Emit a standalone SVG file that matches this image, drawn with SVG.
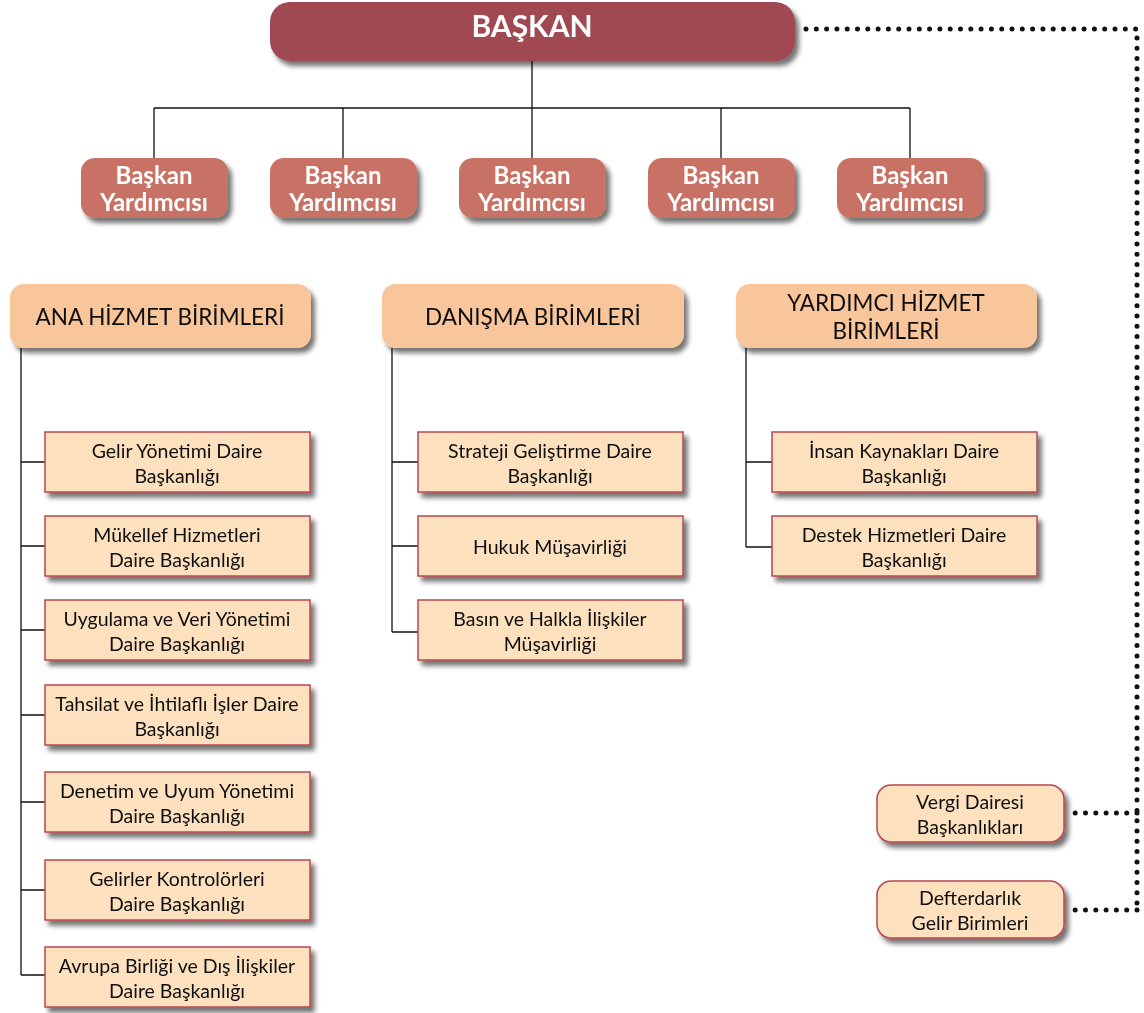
<svg xmlns="http://www.w3.org/2000/svg" width="1144" height="1013" viewBox="0 0 1144 1013">
<defs>
<filter id="sh" x="-10%" y="-20%" width="130%" height="160%">
<feGaussianBlur in="SourceAlpha" stdDeviation="2.5"/>
<feOffset dx="4" dy="5" result="b"/>
<feComponentTransfer><feFuncA type="linear" slope="0.55"/></feComponentTransfer>
<feMerge><feMergeNode/><feMergeNode in="SourceGraphic"/></feMerge>
</filter>
</defs>
<style>
text{font-family:Lato,"Open Sans","Liberation Sans",sans-serif;text-anchor:middle}
.top{fill:#A04A52}
.vp{fill:#C87266}
.cat{fill:#F9C59A}
.unit{fill:#FDE1BF;stroke:#B8474F;stroke-width:1.5}
.t1{fill:#fff;font-weight:bold;font-size:30px}
.t2{fill:#fff;font-weight:bold;font-size:24px}
.t3{fill:#111;font-size:22.5px}
.t4{fill:#111;font-size:19.5px}
.ln{stroke:#111;stroke-width:1.3;fill:none}
.dot{stroke:#111;stroke-width:5;stroke-linecap:round;stroke-dasharray:0 10.3;fill:none}
</style>
<g id="connectors">
<path class="ln" d="M532 61V108M154 108H910M154 108V158M343 108V158M532 108V158M721 108V158M910 108V158"/>
<path class="ln" d="M21 348V975M21 462H45M21 546H45M21 630H45M21 715H45M21 802H45M21 890H45M21 975H45"/>
<path class="ln" d="M392 348V632M392 462H418M392 546H418M392 632H418"/>
<path class="ln" d="M746 348V547M746 462H772M746 547H772"/>
<path class="dot" d="M806 29H1137V910"/>
<path class="dot" d="M1137 813H1070"/>
<path class="dot" d="M1137 910H1070"/>
</g>
<g id="baskan" filter="url(#sh)"><rect class="top" x="270" y="2" width="525" height="59" rx="20"/><text class="t1" x="532" y="37">BAŞKAN</text></g>
<g id="vp1" filter="url(#sh)"><rect class="vp" x="81" y="158" width="147" height="60" rx="14"/><text class="t2" x="154" y="184">Başkan</text><text class="t2" x="154" y="211">Yardımcısı</text></g>
<g id="vp2" filter="url(#sh)"><rect class="vp" x="270" y="158" width="147" height="60" rx="14"/><text class="t2" x="343" y="184">Başkan</text><text class="t2" x="343" y="211">Yardımcısı</text></g>
<g id="vp3" filter="url(#sh)"><rect class="vp" x="459" y="158" width="147" height="60" rx="14"/><text class="t2" x="532" y="184">Başkan</text><text class="t2" x="532" y="211">Yardımcısı</text></g>
<g id="vp4" filter="url(#sh)"><rect class="vp" x="648" y="158" width="147" height="60" rx="14"/><text class="t2" x="721" y="184">Başkan</text><text class="t2" x="721" y="211">Yardımcısı</text></g>
<g id="vp5" filter="url(#sh)"><rect class="vp" x="837" y="158" width="147" height="60" rx="14"/><text class="t2" x="910" y="184">Başkan</text><text class="t2" x="910" y="211">Yardımcısı</text></g>
<g id="cat1" filter="url(#sh)"><rect class="cat" x="10" y="284" width="301" height="64" rx="14"/><text class="t3" x="160" y="325">ANA HİZMET BİRİMLERİ</text></g>
<g id="cat2" filter="url(#sh)"><rect class="cat" x="382" y="284" width="302" height="64" rx="14"/><text class="t3" x="533" y="325">DANIŞMA BİRİMLERİ</text></g>
<g id="cat3" filter="url(#sh)"><rect class="cat" x="736" y="284" width="301" height="64" rx="14"/><text class="t3" x="886" y="311">YARDIMCI HİZMET</text><text class="t3" x="886" y="339">BİRİMLERİ</text></g>
<g id="a1" filter="url(#sh)"><rect class="unit" x="45" y="432" width="265" height="60"/><text class="t4" x="177" y="458">Gelir Yönetimi Daire</text><text class="t4" x="177" y="483">Başkanlığı</text></g>
<g id="a2" filter="url(#sh)"><rect class="unit" x="45" y="516" width="265" height="60"/><text class="t4" x="177" y="542">Mükellef Hizmetleri</text><text class="t4" x="177" y="567">Daire Başkanlığı</text></g>
<g id="a3" filter="url(#sh)"><rect class="unit" x="45" y="600" width="265" height="60"/><text class="t4" x="177" y="626">Uygulama ve Veri Yönetimi</text><text class="t4" x="177" y="651">Daire Başkanlığı</text></g>
<g id="a4" filter="url(#sh)"><rect class="unit" x="45" y="685" width="265" height="60"/><text class="t4" x="177" y="711">Tahsilat ve İhtilaflı İşler Daire</text><text class="t4" x="177" y="736">Başkanlığı</text></g>
<g id="a5" filter="url(#sh)"><rect class="unit" x="45" y="772" width="265" height="60"/><text class="t4" x="177" y="798">Denetim ve Uyum Yönetimi</text><text class="t4" x="177" y="823">Daire Başkanlığı</text></g>
<g id="a6" filter="url(#sh)"><rect class="unit" x="45" y="860" width="265" height="60"/><text class="t4" x="177" y="886">Gelirler Kontrolörleri</text><text class="t4" x="177" y="911">Daire Başkanlığı</text></g>
<g id="a7" filter="url(#sh)"><rect class="unit" x="45" y="947" width="265" height="60"/><text class="t4" x="177" y="973">Avrupa Birliği ve Dış İlişkiler</text><text class="t4" x="177" y="998">Daire Başkanlığı</text></g>
<g id="d1" filter="url(#sh)"><rect class="unit" x="418" y="432" width="265" height="60"/><text class="t4" x="550" y="458">Strateji Geliştirme Daire</text><text class="t4" x="550" y="483">Başkanlığı</text></g>
<g id="d2" filter="url(#sh)"><rect class="unit" x="418" y="516" width="265" height="60"/><text class="t4" x="550" y="554">Hukuk Müşavirliği</text></g>
<g id="d3" filter="url(#sh)"><rect class="unit" x="418" y="600" width="265" height="60"/><text class="t4" x="550" y="626">Basın ve Halkla İlişkiler</text><text class="t4" x="550" y="651">Müşavirliği</text></g>
<g id="y1" filter="url(#sh)"><rect class="unit" x="772" y="432" width="265" height="60"/><text class="t4" x="904" y="458">İnsan Kaynakları Daire</text><text class="t4" x="904" y="483">Başkanlığı</text></g>
<g id="y2" filter="url(#sh)"><rect class="unit" x="772" y="516" width="265" height="60"/><text class="t4" x="904" y="542">Destek Hizmetleri Daire</text><text class="t4" x="904" y="567">Başkanlığı</text></g>
<g id="vd" filter="url(#sh)"><rect class="unit" x="877" y="785" width="187" height="57" rx="14"/><text class="t4" x="970" y="809">Vergi Dairesi</text><text class="t4" x="970" y="834">Başkanlıkları</text></g>
<g id="df" filter="url(#sh)"><rect class="unit" x="877" y="881" width="187" height="57" rx="14"/><text class="t4" x="970" y="905">Defterdarlık</text><text class="t4" x="970" y="930">Gelir Birimleri</text></g>
</svg>
